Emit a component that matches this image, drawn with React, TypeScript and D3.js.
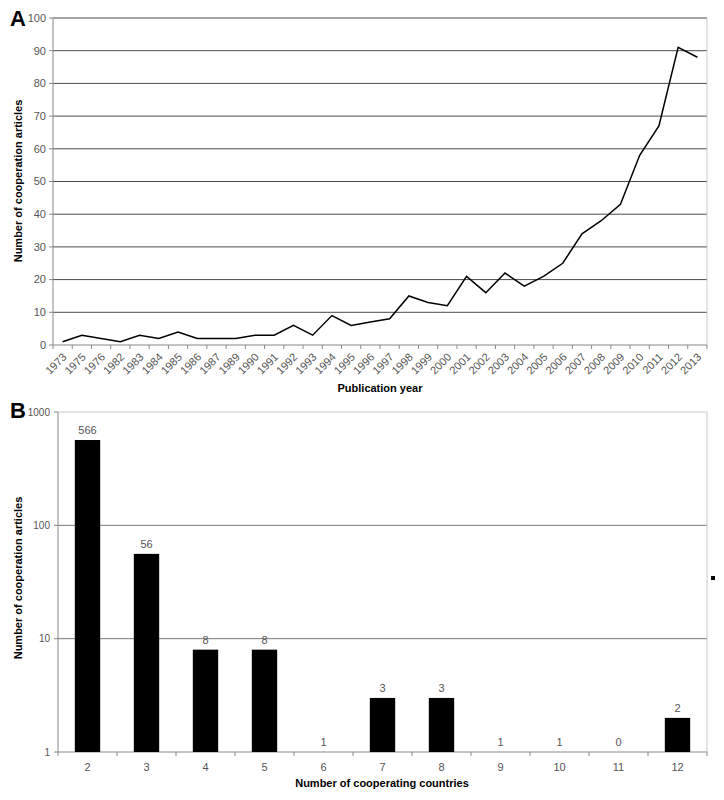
import * as d3 from "d3";
import React from "react";

// Panel A: cooperation articles per publication year
const years = [
	"1973", "1975", "1976", "1982", "1983", "1984", "1985", "1986", "1987",
	"1989", "1990", "1991", "1992", "1993", "1994", "1995", "1996", "1997",
	"1998", "1999", "2000", "2001", "2002", "2003", "2004", "2005", "2006",
	"2007", "2008", "2009", "2010", "2011", "2012", "2013",
];
const yearCounts = [
	1, 3, 2, 1, 3, 2, 4, 2, 2, 2, 3, 3, 6, 3, 9, 6, 7, 8, 15, 13, 12, 21, 16,
	22, 18, 21, 25, 34, 38, 43, 58, 67, 91, 88,
];
const yearTicks = [0, 10, 20, 30, 40, 50, 60, 70, 80, 90, 100];

// Panel B: articles by number of cooperating countries (log scale)
const countries = ["2", "3", "4", "5", "6", "7", "8", "9", "10", "11", "12"];
const countryCounts = [566, 56, 8, 8, 1, 3, 3, 1, 1, 0, 2];
const logTicks = [1, 10, 100, 1000];

const FONT = "'Liberation Sans', Arial, sans-serif";

function PanelA() {
	const m = { left: 53, right: 707, top: 18, bottom: 345 };
	const x = d3.scaleBand().domain(years).range([m.left, m.right]).padding(0);
	const y = d3.scaleLinear().domain([0, 100]).range([m.bottom, m.top]);
	const step = x.step();
	const line = d3
		.line<number>()
		.x((_, i) => (x(years[i]) as number) + step / 2)
		.y((d) => y(d));

	return (
		<g fontFamily={FONT}>
			<text x={10} y={26} fontSize={22} fontWeight="bold">A</text>
			{yearTicks.map((t) => (
				<g key={t}>
					{t > 0 && (
						<line x1={m.left} x2={m.right} y1={y(t)} y2={y(t)} stroke="#4a4a4a" strokeWidth={1} />
					)}
					<line x1={m.left - 4} x2={m.left} y1={y(t)} y2={y(t)} stroke="#888" />
					<text x={m.left - 7} y={y(t)} dy="0.35em" textAnchor="end" fontSize={11} fill="#555">
						{t}
					</text>
				</g>
			))}
			<line x1={m.right} x2={m.right} y1={m.top} y2={m.bottom} stroke="#c8c8c8" />
			<line x1={m.left} x2={m.left} y1={m.top} y2={m.bottom} stroke="#888" />
			<line x1={m.left} x2={m.right} y1={m.bottom} y2={m.bottom} stroke="#888" />
			{d3.range(years.length + 1).map((i) => (
				<line key={i} x1={m.left + i * step} x2={m.left + i * step} y1={m.bottom} y2={m.bottom + 4} stroke="#888" />
			))}
			{years.map((yr) => {
				const cx = (x(yr) as number) + step / 2;
				return (
					<text
						key={yr}
						transform={`translate(${cx + 2},${m.bottom + 10}) rotate(-45)`}
						textAnchor="end"
						dy="0.35em"
						fontSize={11}
						fill="#555"
					>
						{yr}
					</text>
				);
			})}
			<path d={line(yearCounts) ?? ""} fill="none" stroke="#000" strokeWidth={1.5} />
			<text x={380} y={392} textAnchor="middle" fontSize={11} fontWeight="bold">
				Publication year
			</text>
			<text transform="translate(22,181) rotate(-90)" textAnchor="middle" fontSize={11} fontWeight="bold">
				Number of cooperation articles
			</text>
		</g>
	);
}

function PanelB() {
	const m = { left: 58, right: 707, top: 412, bottom: 752 };
	const x = d3
		.scaleBand()
		.domain(countries)
		.range([m.left, m.right])
		.paddingInner(0.57)
		.paddingOuter(0.285);
	const y = d3.scaleLog().domain([1, 1000]).range([m.bottom, m.top]);
	const step = x.step();
	const x0 = (x(countries[0]) as number) - (step * 0.57) / 2;

	return (
		<g fontFamily={FONT}>
			<text x={10} y={418} fontSize={22} fontWeight="bold">B</text>
			{logTicks.map((t) => (
				<g key={t}>
					{t > 1 && (
						<line
							x1={m.left}
							x2={m.right}
							y1={y(t)}
							y2={y(t)}
							stroke={t === 1000 ? "#c8c8c8" : "#777"}
							strokeWidth={1}
						/>
					)}
					<line x1={m.left - 4} x2={m.left} y1={y(t)} y2={y(t)} stroke="#888" />
					<text x={m.left - 8} y={y(t)} dy="0.35em" textAnchor="end" fontSize={10} fill="#555">
						{t}
					</text>
				</g>
			))}
			<line x1={m.right} x2={m.right} y1={m.top} y2={m.bottom} stroke="#c8c8c8" />
			<line x1={m.left} x2={m.left} y1={m.top} y2={m.bottom} stroke="#888" />
			<line x1={m.left} x2={m.right} y1={m.bottom} y2={m.bottom} stroke="#888" />
			{d3.range(countries.length + 1).map((i) => (
				<line key={i} x1={x0 + i * step} x2={x0 + i * step} y1={m.bottom} y2={m.bottom + 4} stroke="#888" />
			))}
			{countries.map((c, i) => {
				const v = countryCounts[i];
				const bx = x(c) as number;
				const top = y(Math.max(v, 1));
				return (
					<g key={c}>
						{v > 1 && (
							<rect x={bx} y={top} width={x.bandwidth()} height={m.bottom - top} fill="#000" />
						)}
						<text x={bx + x.bandwidth() / 2} y={top - 6} textAnchor="middle" fontSize={11} fill="#555">
							{v}
						</text>
						<text x={bx + x.bandwidth() / 2} y={m.bottom + 19} textAnchor="middle" fontSize={11} fill="#555">
							{c}
						</text>
					</g>
				);
			})}
			<text x={382} y={787} textAnchor="middle" fontSize={11} fontWeight="bold">
				Number of cooperating countries
			</text>
			<text transform="translate(22,578) rotate(-90)" textAnchor="middle" fontSize={11} fontWeight="bold">
				Number of cooperation articles
			</text>
			<rect x={711} y={576} width={4} height={4} fill="#000" />
		</g>
	);
}

export default function App() {
	return (
		<svg
			width={724}
			height={800}
			style={{ position: "absolute", left: 0, top: 0, background: "#fff" }}
		>
			<PanelA />
			<PanelB />
		</svg>
	);
}
